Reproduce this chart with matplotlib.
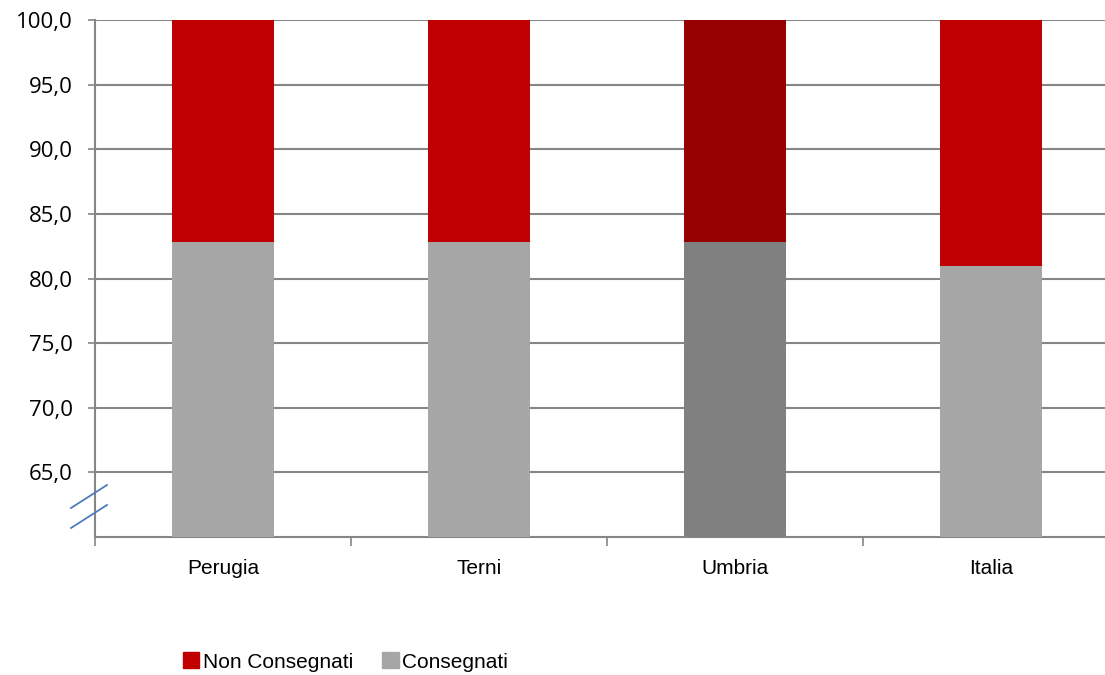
import numpy as np
import matplotlib.pyplot as plt
from matplotlib.patches import Patch
from matplotlib.lines import Line2D

# dati
zone = ['Perugia', 'Terni', 'Umbria', 'Italia']
consegnati = [82.8, 82.8, 82.8, 81.0]
non_consegnati = [100 - v for v in consegnati]
col_cons = ['#A6A6A6', '#A6A6A6', '#808080', '#A6A6A6']
col_non = ['#C00000', '#C00000', '#960000', '#C00000']
y_ticks = [65, 70, 75, 80, 85, 90, 95, 100]

fig = plt.figure(figsize=(11.05, 6.75), dpi=100)
# l'asse continua oltre il bordo destro dell'immagine (ritagliata)
ax = fig.add_axes([95 / 1105, 1 - 537 / 675, 1024 / 1105, 517 / 675])

x = np.arange(len(zone))
ax.bar(x, [v - 60 for v in consegnati], bottom=60, width=0.4, color=col_cons, zorder=3)
ax.bar(x, non_consegnati, bottom=consegnati, width=0.4, color=col_non, zorder=3)

ax.set_xlim(-0.5, 3.5)
ax.set_ylim(60, 100)
ax.set_yticks(y_ticks)
ax.set_yticklabels([f'{v:.1f}'.replace('.', ',') for v in y_ticks],
                   fontsize=16, family=['Open Sans', 'DejaVu Sans'])
ax.yaxis.grid(True, color='#868686', linewidth=1.5, zorder=0)

ax.set_xticks(x)
ax.set_xticklabels(zone, fontsize=15, family=['Liberation Sans', 'DejaVu Sans'])
ax.tick_params(axis='x', length=0, pad=16)
ax.set_xticks(np.arange(-0.5, 3.6, 1), minor=True)
ax.tick_params(axis='x', which='minor', length=6.5, width=1.2, color='#868686', direction='out')
ax.tick_params(axis='y', length=5, width=1.2, color='#868686', pad=11)

for s in ['top', 'right']:
    ax.spines[s].set_visible(False)
for s in ['left', 'bottom']:
    ax.spines[s].set_color('#868686')
    ax.spines[s].set_linewidth(1.5)

# segni di interruzione dell'asse
for y0 in [508, 528]:
    fig.add_artist(Line2D([71 / 1105, 107 / 1105], [1 - y0 / 675, 1 - (y0 - 23) / 675],
                          color='#4A7EBB', linewidth=1.3))

handles = [Patch(color='#C00000'), Patch(color='#A6A6A6')]
fig.legend(handles, ['Non Consegnati', 'Consegnati'], loc='center left',
           bbox_to_anchor=(164 / 1105, 1 - 662 / 675), ncol=2, frameon=False,
           handlelength=0.8, handleheight=0.8, handletextpad=0.15, columnspacing=1.4,
           prop={'family': ['Liberation Sans', 'DejaVu Sans'], 'size': 15})

fig.savefig('out.png', dpi=100)
